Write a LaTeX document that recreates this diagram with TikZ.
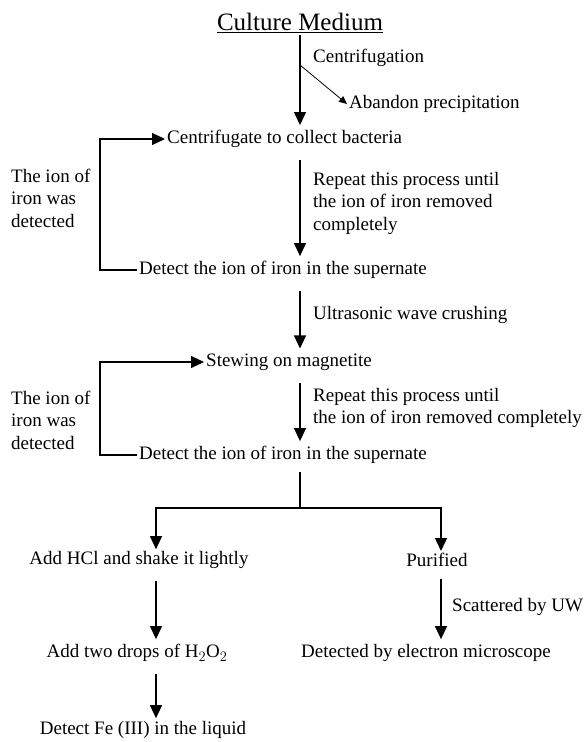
\documentclass[tikz,border=0pt]{standalone}
\usepackage{fontspec}
\setmainfont{Liberation Serif}
\usetikzlibrary{arrows.meta}

\begin{document}
\begin{tikzpicture}[x=1pt, y=-1pt,
		every node/.style={font=\fontsize{19}{22.5}\selectfont, inner sep=2pt},
		txt/.style={anchor=west, align=left},
		link/.style={line width=1.2pt},
		flow/.style={link, -{Triangle[length=13pt,width=12pt]}, shorten <=10pt, shorten >=3pt},
		back/.style={link, -{Triangle[length=13pt,width=12pt]}},
		side/.style={line width=0.8pt, -{Triangle[length=8pt,width=7pt]}}]
		
		\useasboundingbox (0,0) rectangle (588,742);
		
		% top part: first washing loop
		\node (culture) at (300,23) {\fontsize{25}{30}\selectfont\underline{Culture Medium}};
		\node[txt] (centrif) at (311,58) {Centrifugation};
		\node[txt] (abandon) at (347,104) {Abandon precipitation};
		\node[txt] (collect) at (165,139) {Centrifugate to collect bacteria};
		\node[txt] (repeatA) at (311,203) {Repeat this process until\\the ion of iron removed\\completely};
		\node[txt] (ionA) at (9,198) {The ion of\\iron was\\detected};
		\node[txt] (detectA) at (137,270) {Detect the ion of iron in the supernate};
		
		% middle part: second washing loop
		\node[txt] (ultra) at (311,315) {Ultrasonic wave crushing};
		\node[txt] (stew) at (204,362) {Stewing on magnetite};
		\node[txt] (repeatB) at (311,408) {Repeat this process until\\the ion of iron removed completely};
		\node[txt] (ionB) at (9,420) {The ion of\\iron was\\detected};
		\node[txt] (detectB) at (137,455) {Detect the ion of iron in the supernate};
		
		% bottom part: two branches
		\node (hcl) at (139,560) {Add HCl and shake it lightly};
		\node (purified) at (437,560) {Purified};
		\node[txt] (scatter) at (450,607) {Scattered by UW};
		\node (drops) at (137,653) {Add two drops of H$_2$O$_2$};
		\node (micro) at (426,653) {Detected by electron microscope};
		\node (fe) at (143,730) {Detect Fe (III) in the liquid};
		
		\coordinate (split) at (300,65);
		\coordinate (branch) at (300,508);
		\coordinate (lcol) at (156,0);
		\coordinate (rcol) at (441,0);
		
		\draw[flow, shorten <=0pt] (culture.south) -- (culture |- collect.north);
		\draw[side] (split) -- (abandon.west);
		\draw[flow] (culture |- collect.south) -- (culture |- detectA.north);
		\draw[back] (detectA.west) -- ++(-37,0) |- (collect.west);
		
		\draw[flow] (culture |- detectA.south) -- (culture |- stew.north);
		\draw[flow] (culture |- stew.south) -- (culture |- detectB.north);
		\draw[back] (detectB.west) -- ++(-37,0) |- (stew.west);
		
		\draw[link, shorten <=6pt] (culture |- detectB.south) -- (branch);
		\draw[back] (branch) -| (lcol |- hcl.north);
		\draw[back] (branch) -| (rcol |- purified.north);
		\draw[flow] (lcol |- hcl.south) -- (lcol |- drops.north);
		\draw[flow, shorten >=1pt] (lcol |- drops.south) -- (lcol |- fe.north);
		\draw[flow] (rcol |- purified.south) -- (rcol |- micro.north);
		
\end{tikzpicture}
\end{document}
